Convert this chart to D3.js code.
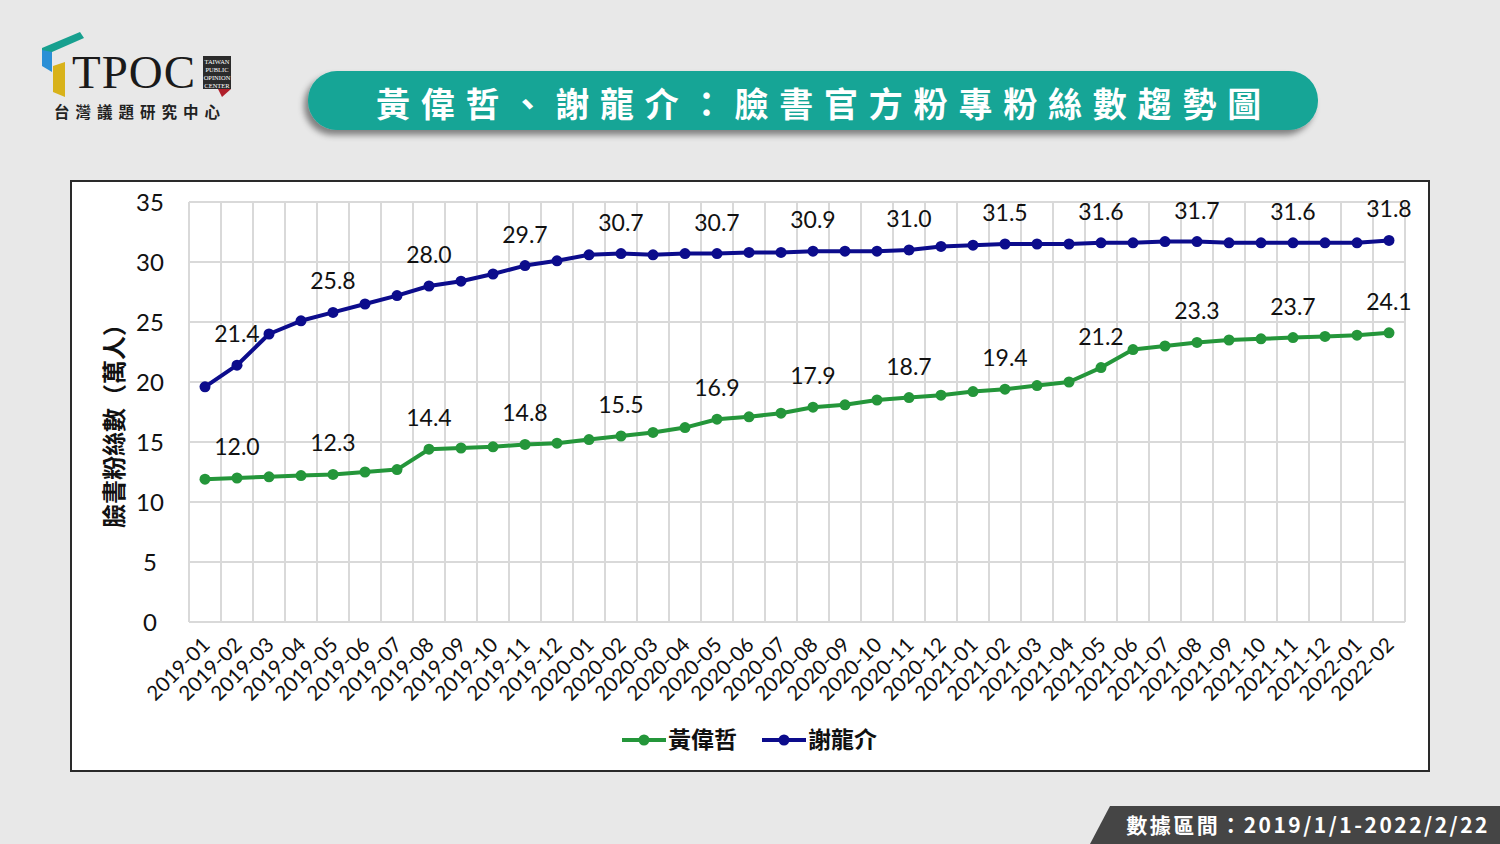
<!DOCTYPE html>
<html>
<head>
<meta charset="utf-8">
<script src="https://cdn.jsdelivr.net/npm/d3@7"></script>
<style>
  html, body { margin: 0; padding: 0; background: #e8e8e8; }
  svg { display: block; }
</style>
</head>
<body>
<div id="chart"></div>
<script>
// months on the x axis
var months = ["2019-01","2019-02","2019-03","2019-04","2019-05","2019-06","2019-07","2019-08","2019-09","2019-10","2019-11","2019-12",
  "2020-01","2020-02","2020-03","2020-04","2020-05","2020-06","2020-07","2020-08","2020-09","2020-10","2020-11","2020-12",
  "2021-01","2021-02","2021-03","2021-04","2021-05","2021-06","2021-07","2021-08","2021-09","2021-10","2021-11","2021-12",
  "2022-01","2022-02"];

// fans, in 10k
var huang = [11.9,12.0,12.1,12.2,12.3,12.5,12.7,14.4,14.5,14.6,14.8,14.9,
  15.2,15.5,15.8,16.2,16.9,17.1,17.4,17.9,18.1,18.5,18.7,18.9,
  19.2,19.4,19.7,20.0,21.2,22.7,23.0,23.3,23.5,23.6,23.7,23.8,
  23.9,24.1];
var hsieh = [19.6,21.4,24.0,25.1,25.8,26.5,27.2,28.0,28.4,29.0,29.7,30.1,
  30.6,30.7,30.6,30.7,30.7,30.8,30.8,30.9,30.9,30.9,31.0,31.3,
  31.4,31.5,31.5,31.5,31.6,31.6,31.7,31.7,31.6,31.6,31.6,31.6,
  31.6,31.8];

var seriesNames = ["黃偉哲","謝龍介"];
var seriesColors = ["#24963a","#0c0c8c"];
var yTicks = [0,5,10,15,20,25,30,35];

var title = "黃偉哲、謝龍介：臉書官方粉專粉絲數趨勢圖";
var yTitle = "臉書粉絲數（萬人）";
var footnote = "數據區間：2019/1/1-2022/2/22";

(function(){
    var W = 1500, H = 844;
    var cjk = "'Noto Sans CJK TC','Noto Sans CJK SC',sans-serif";
    var num = "Lato,'Noto Sans',sans-serif";

    var svg = d3.select('#chart').append('svg')
        .attr('width', W).attr('height', H);

    svg.append('rect').attr('width', W).attr('height', H).attr('fill', '#e8e8e8');

    var defs = svg.append('defs');
    var f = defs.append('filter').attr('id','shadow')
        .attr('x','-5%').attr('y','-30%').attr('width','110%').attr('height','170%');
    f.append('feDropShadow').attr('dx',-4).attr('dy',5).attr('stdDeviation',3)
        .attr('flood-color','#000').attr('flood-opacity',0.45);

    // ---- logo
    var logo = svg.append('g');
    logo.append('polygon').attr('points','42,48 80,32 84,38 52,52 52,60 42,60').attr('fill','#17a08f');
    logo.append('polygon').attr('points','42,50 52,52 52,72 42,66').attr('fill','#2a8fd6');
    logo.append('polygon').attr('points','53,66 65,62 65,97 53,92').attr('fill','#d8b21a');
    logo.append('text').attr('x',72).attr('y',88)
        .attr('font-family',"'Liberation Serif','DejaVu Serif',serif")
        .attr('font-size',47).attr('letter-spacing',1).attr('fill','#1a1a1a').text('TPOC');
    logo.append('rect').attr('x',203).attr('y',56).attr('width',28).attr('height',33).attr('fill','#2b2b2b');
    logo.append('polygon').attr('points','218,89 231,89 222,97').attr('fill','#b01f2a');
    ["TAIWAN","PUBLIC","OPINION","CENTER"].forEach(function(t,i){
        logo.append('text').attr('x',217).attr('y',63.5+i*8).attr('text-anchor','middle')
            .attr('font-family',"'Liberation Serif',serif").attr('font-size',6.5)
            .attr('fill','#fff').text(t);
    });
    logo.append('text').attr('x',54).attr('y',118)
        .attr('font-family',cjk).attr('font-weight',700).attr('font-size',15.5)
        .attr('letter-spacing',6).attr('fill','#222').text('台灣議題研究中心');

    // ---- title pill
    svg.append('rect').attr('x',308).attr('y',71).attr('width',1010).attr('height',59)
        .attr('rx',29).attr('fill','#14a596').attr('filter','url(#shadow)');
    svg.append('text').attr('x',824).attr('y',117).attr('text-anchor','middle')
        .attr('font-family',cjk).attr('font-weight',700).attr('font-size',34)
        .attr('letter-spacing',10.8).attr('fill','#fff').text(title);

    // ---- chart frame
    svg.append('rect').attr('x',71).attr('y',181).attr('width',1358).attr('height',590)
        .attr('fill','#fff').attr('stroke','#2a2a2a').attr('stroke-width',2);

    var x = d3.scaleBand().domain(months).range([189,1405]).padding(0);
    var y = d3.scaleLinear().domain([0,35]).range([622,202]);
    var cx = function(d,i){ return x(months[i]) + x.bandwidth()/2; };

    var grid = svg.append('g').attr('stroke','#d9d9d9').attr('stroke-width',2);
    grid.selectAll('.h').data(yTicks).enter().append('line')
        .attr('x1',189).attr('x2',1405)
        .attr('y1',function(d){return y(d);}).attr('y2',function(d){return y(d);});
    var bounds = months.map(function(m){return x(m);}).concat([x.range()[1]]);
    grid.selectAll('.v').data(bounds).enter().append('line')
        .attr('x1',function(d){return d;}).attr('x2',function(d){return d;})
        .attr('y1',y(35)).attr('y2',y(0));

    // y ticks
    svg.append('g').selectAll('text').data(yTicks).enter().append('text')
        .attr('x',150).attr('y',function(d){return y(d);}).attr('dy','0.36em')
        .attr('text-anchor','middle').attr('font-family',num).attr('font-size',24)
        .attr('fill','#111').text(function(d){return d;});

    svg.append('text')
        .attr('transform','translate(115,420) rotate(-90)')
        .attr('text-anchor','middle').attr('dy','0.35em')
        .attr('font-family',cjk).attr('font-weight',700).attr('font-size',24)
        .attr('fill','#111').text(yTitle);

    // x ticks
    svg.append('g').selectAll('text').data(months).enter().append('text')
        .attr('transform',function(d,i){ return 'translate(' + (cx(d,i)+1) + ',641) rotate(-45)'; })
        .attr('text-anchor','end').attr('dy','0.35em')
        .attr('font-family',num).attr('font-size',20.5).attr('fill','#111')
        .text(function(d){return d;});

    // ---- series
    var line = d3.line().x(cx).y(function(d){return y(d);});
    [huang, hsieh].forEach(function(vals, k){
        var g = svg.append('g');
        g.append('path').datum(vals).attr('d',line).attr('fill','none')
            .attr('stroke',seriesColors[k]).attr('stroke-width',4).attr('stroke-linejoin','round');
        g.selectAll('circle').data(vals).enter().append('circle')
            .attr('cx',cx).attr('cy',function(d){return y(d);}).attr('r',5.5)
            .attr('fill',seriesColors[k]);
        // value labels on every third month
        vals.forEach(function(v,i){
            if (i % 3 !== 1) return;
            g.append('text').attr('x',cx(v,i)).attr('y',y(v)-23)
                .attr('text-anchor','middle').attr('font-family',num).attr('font-size',23)
                .attr('fill','#111').text(v.toFixed(1));
        });
    });

    // ---- legend
    var legend = svg.append('g');
    var lx = [622, 762];
    seriesNames.forEach(function(n,k){
        legend.append('line').attr('x1',lx[k]).attr('x2',lx[k]+44).attr('y1',740).attr('y2',740)
            .attr('stroke',seriesColors[k]).attr('stroke-width',4);
        legend.append('circle').attr('cx',lx[k]+22).attr('cy',740).attr('r',5.5).attr('fill',seriesColors[k]);
        legend.append('text').attr('x',lx[k]+46).attr('y',740).attr('dy','0.36em')
            .attr('font-family',cjk).attr('font-weight',700).attr('font-size',23)
            .attr('fill','#111').text(n);
    });

    // ---- footer band
    svg.append('polygon').attr('points','1090,844 1110,806 1500,806 1500,844').attr('fill','#454545');
    svg.append('text').attr('x',1490).attr('y',833).attr('text-anchor','end')
        .attr('font-family',cjk).attr('font-weight',700).attr('font-size',21)
        .attr('letter-spacing',2.5).attr('fill','#fff').text(footnote);
})();
</script>
</body>
</html>
